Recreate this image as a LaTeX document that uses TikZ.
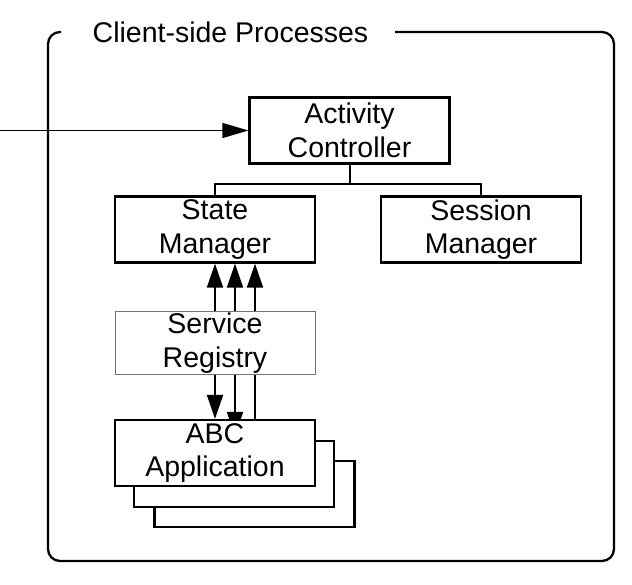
\documentclass[tikz,border=0pt]{standalone}
\usepackage{fontspec}
\setmainfont{Liberation Sans}
\usetikzlibrary{arrows.meta, positioning, backgrounds}

\begin{document}
\begin{tikzpicture}[
                x=1pt, y=-1pt,
                box/.style={draw, line width=2.3pt, fill=white, minimum width=200pt, minimum height=66pt, inner sep=0pt, align=center},
                registry/.style={box, draw=black!55, line width=1pt, minimum height=62pt},
                frame/.style={line width=2.3pt, rounded corners=12pt},
                link/.style={line width=2pt},
                arrow/.style={-{Triangle[length=24pt, width=16pt]}, line width=2pt},
                inarrow/.style={-{Triangle[length=26pt, width=15pt]}, line width=1.3pt},
                every node/.style={font=\fontsize{28.5}{33.5}\selectfont}
            ]
            \useasboundingbox (0,0) rectangle (632,585);

            % Frame
            \node (title) at (230.5,32) {Client-side Processes};
            \draw[frame] (395,32) -- (614,32) -- (614,561) -- (48,561) -- (48,32) -- (61,32);

            % Nodes
            \node[box] (ac) at (349.5,130.5) {Activity\\Controller};
            \node[box] (sm) at (215,229.5) {State\\Manager};
            \node[box] (sem) at (481,229.5) {Session\\Manager};
            \node[registry] (sr) at (215,343) {Service\\Registry};
            \node[box] (abc3) at (254.5,494) {};
            \node[box] (abc2) at (234,474) {};
            \node[box] (abc) at (215,453) {ABC\\Application};

            % Input
            \coordinate (in) at (0,130.5);
            \draw[inarrow] (in) -- (ac.west);

            % Edges
            \draw[link] (ac.south) -- ++(0,19) -| (sm.north);
            \draw[link] (ac.south) -- ++(0,19) -| (sem.north);

            \foreach \dx in {0,20,40}
                \draw[arrow] ([xshift=\dx pt]sr.north) -- ([xshift=\dx pt]sm.south);

            \draw[arrow] (sr.south) -- (abc.north);
            \begin{scope}[on background layer]
                \draw[arrow] ([xshift=20pt]sr.south) -- ([xshift=20pt, yshift=-17pt]abc.north);
            \end{scope}
            \draw[link] ([xshift=40pt]sr.south) -- ([xshift=40pt]abc.north);
            \end{tikzpicture}
\end{document}
